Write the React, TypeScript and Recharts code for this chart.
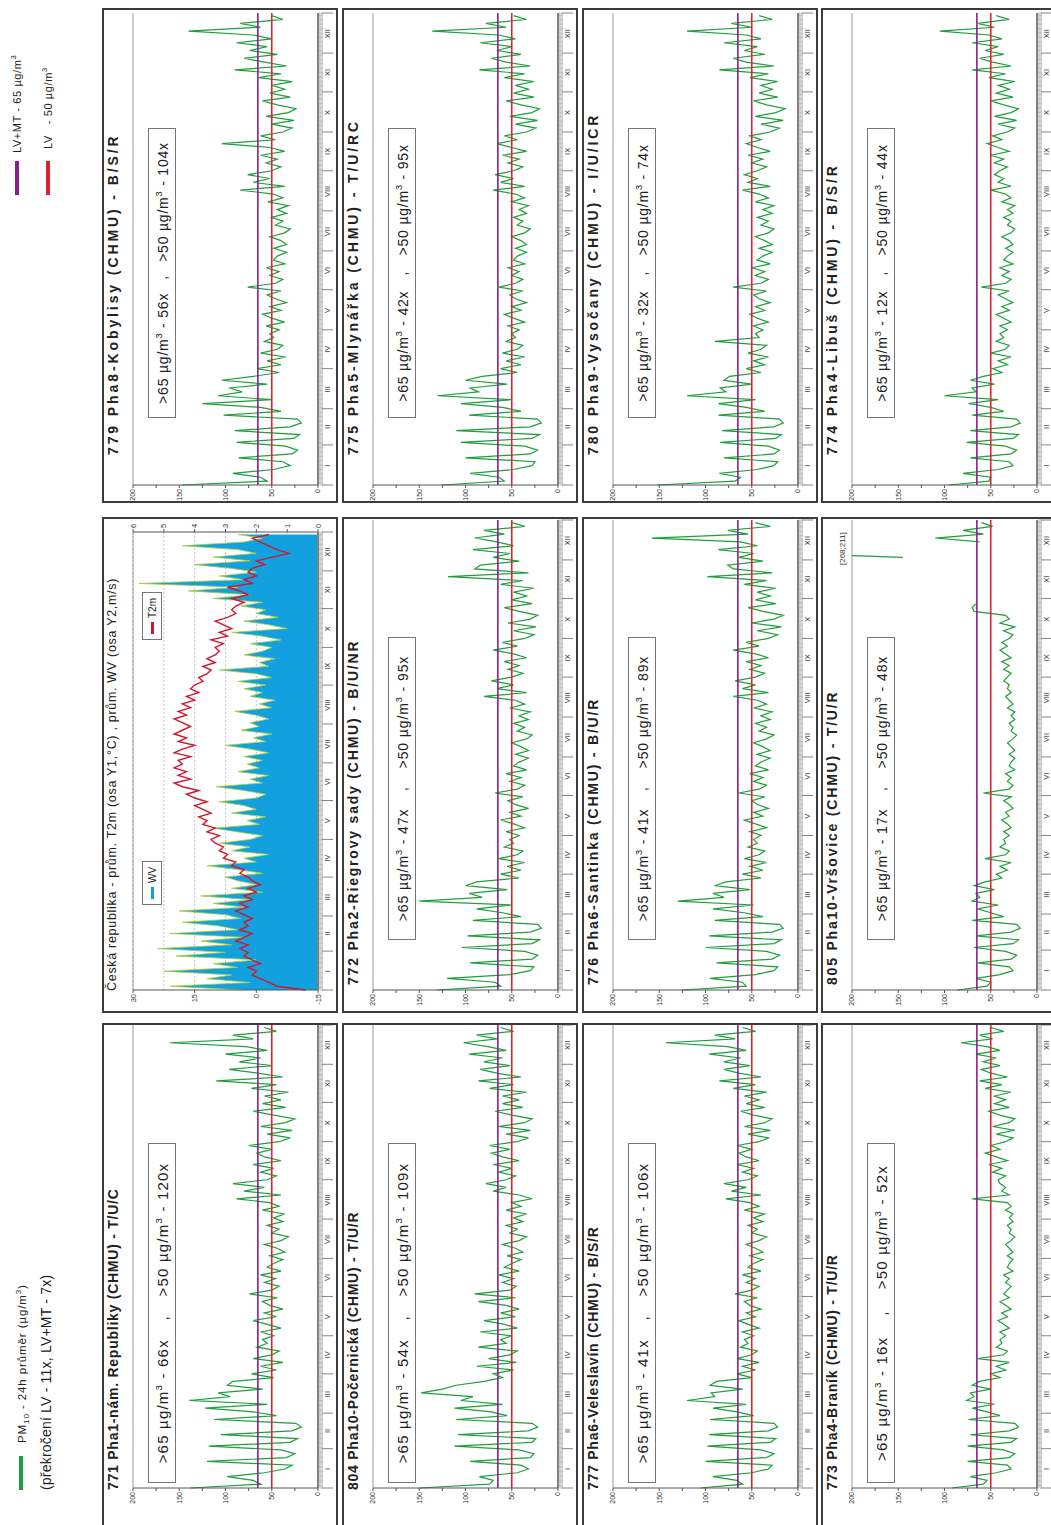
import React from "react"
import { LineChart, Line, XAxis, YAxis, ReferenceLine, ComposedChart, Area, CartesianGrid } from "recharts"

// one sample every third day, Jan 1 .. Dec 30
const STEP = 3

const monthLabels = ["I", "II", "III", "IV", "V", "VI", "VII", "VIII", "IX", "X", "XI", "XII"]
const monthStarts = [0, 31, 59, 90, 120, 151, 181, 212, 243, 273, 304, 334, 365]
const monthMidDays = [15, 45, 74, 105, 135, 166, 196, 227, 258, 288, 319, 349]
const pmTicks = [0, 25, 50, 75, 100, 125, 150, 175, 200]
const t2mTicks = [-15, 0, 15, 30]
const wvTicks = [0, 1, 2, 3, 4, 5, 6]

// PM10 24h averages (µg/m3)
const pha1Nam = [
  138, 62, 70, 98, 58, 36, 28, 120, 34, 25, 40,
  118, 30, 22, 105, 28, 18, 24, 112, 45,
  70, 122, 55, 139, 95, 108, 60, 98, 92, 48,
  72, 45, 62, 38, 70, 50, 42, 66, 55, 60,
  48, 62, 40, 55, 70, 45, 58, 38, 52, 60, 44,
  74, 50, 42, 58, 46, 62, 40, 55, 48, 38,
  52, 36, 44, 58, 40, 32, 50, 42, 55, 38,
  48, 36, 60, 42, 52, 88, 40, 80, 58, 92,
  55, 45, 62, 48, 70, 40, 58, 66, 50, 75,
  42, 30, 55, 28, 62, 35, 25, 48, 70, 35, 60,
  40, 58, 32, 72, 45, 110, 38, 65, 96, 50,
  85, 62, 100, 55, 78, 160, 70, 92, 45, 58,
]
const pha8Kobylisy = [
  147, 55, 62, 92, 48, 30, 38, 86, 28, 22, 35,
  88, 26, 20, 90, 30, 18, 22, 102, 40,
  62, 125, 50, 108, 82, 96, 55, 104, 70, 42,
  66, 40, 55, 35, 62, 44, 38, 58, 48, 52,
  42, 56, 36, 50, 60, 40, 52, 34, 46, 55, 40,
  76, 46, 38, 52, 42, 56, 36, 48, 44, 34,
  48, 34, 40, 52, 36, 30, 46, 38, 50, 34,
  44, 32, 54, 38, 48, 84, 36, 70, 52, 76,
  50, 40, 56, 44, 62, 36, 52, 104, 46, 62,
  38, 28, 50, 26, 56, 32, 24, 44, 60, 30, 52,
  36, 50, 28, 64, 40, 90, 34, 58, 80, 44,
  74, 55, 88, 50, 70, 140, 62, 84, 38, 50,
]
const pha10Pocernicka = [
  150, 74, 70, 85, 44, 32, 40, 95, 30, 26, 42,
  112, 28, 24, 108, 32, 22, 28, 110, 55,
  72, 112, 60, 105, 92, 148, 125, 110, 80, 60,
  70, 48, 88, 45, 75, 52, 44, 86, 56, 62,
  50, 84, 44, 58, 80, 46, 62, 42, 56, 86, 46,
  90, 52, 45, 60, 48, 64, 42, 58, 50, 40,
  55, 38, 46, 60, 42, 34, 52, 44, 56, 38,
  48, 34, 56, 40, 50, 28, 42, 70, 56, 78,
  56, 46, 64, 50, 70, 42, 60, 72, 52, 74,
  44, 32, 56, 30, 64, 36, 28, 50, 68, 38, 60,
  42, 60, 34, 74, 48, 86, 40, 66, 84, 52,
  80, 60, 96, 56, 76, 102, 66, 88, 48, 62,
]
const pha2Riegrovy = [
  131, 62, 68, 120, 52, 30, 26, 95, 28, 22, 36,
  104, 28, 20, 98, 30, 18, 22, 92, 40,
  60, 88, 50, 150, 82, 96, 55, 100, 88, 42,
  62, 40, 55, 36, 64, 44, 38, 58, 48, 52,
  42, 56, 36, 48, 62, 40, 52, 32, 46, 54, 38,
  68, 44, 36, 52, 40, 56, 34, 48, 42, 32,
  46, 32, 40, 50, 34, 28, 44, 36, 48, 32,
  42, 30, 52, 36, 46, 80, 34, 66, 48, 72,
  50, 38, 54, 42, 58, 34, 48, 70, 44, 60,
  36, 26, 48, 24, 54, 30, 22, 42, 58, 28, 50,
  34, 48, 26, 62, 38, 119, 32, 90, 84, 42,
  70, 52, 92, 48, 66, 90, 58, 80, 36, 50,
]
const pha5Mlynarka = [
  125, 58, 64, 95, 48, 28, 25, 100, 30, 22, 36,
  105, 28, 20, 110, 30, 18, 22, 96, 40,
  60, 105, 50, 130, 86, 95, 55, 100, 82, 44,
  62, 40, 56, 36, 60, 44, 38, 56, 46, 50,
  42, 54, 36, 48, 58, 40, 50, 34, 46, 52, 38,
  64, 46, 38, 50, 42, 54, 36, 48, 44, 34,
  46, 34, 40, 50, 36, 30, 44, 38, 48, 34,
  42, 32, 50, 36, 46, 70, 36, 62, 48, 68,
  48, 38, 54, 42, 60, 34, 50, 66, 44, 58,
  34, 24, 46, 22, 52, 28, 20, 40, 56, 26, 48,
  32, 46, 26, 58, 36, 85, 30, 56, 72, 40,
  66, 50, 84, 46, 64, 136, 56, 78, 34, 48,
]
const pha6Veleslavin = [
  105, 60, 66, 92, 50, 32, 28, 100, 34, 26, 40,
  98, 30, 24, 96, 32, 22, 26, 95, 48,
  66, 92, 56, 120, 90, 94, 60, 95, 88, 50,
  66, 46, 60, 42, 66, 50, 44, 62, 54, 58,
  48, 60, 42, 54, 64, 46, 56, 40, 52, 58, 44,
  68, 50, 42, 56, 46, 60, 40, 54, 48, 38,
  52, 38, 46, 56, 42, 34, 50, 44, 54, 38,
  48, 36, 58, 42, 52, 78, 40, 72, 56, 80,
  54, 44, 60, 48, 66, 42, 56, 64, 50, 66,
  42, 32, 54, 30, 58, 36, 28, 48, 62, 36, 56,
  42, 58, 34, 70, 46, 85, 40, 64, 80, 52,
  80, 62, 96, 56, 76, 143, 68, 90, 46, 60,
]
const pha6Santinka = [
  125, 56, 60, 95, 46, 26, 22, 88, 28, 20, 34,
  100, 26, 18, 96, 28, 16, 20, 90, 38,
  58, 92, 48, 130, 80, 92, 52, 90, 78, 40,
  60, 38, 52, 34, 58, 42, 36, 54, 44, 48,
  40, 52, 34, 46, 58, 38, 48, 32, 44, 50, 36,
  64, 42, 34, 48, 38, 52, 32, 46, 40, 30,
  44, 30, 38, 48, 34, 26, 42, 34, 46, 30,
  40, 28, 48, 34, 44, 70, 32, 60, 46, 68,
  46, 36, 52, 40, 56, 32, 46, 70, 42, 56,
  32, 22, 44, 18, 50, 26, 16, 38, 54, 24, 46,
  30, 44, 24, 58, 34, 98, 28, 70, 76, 38,
  64, 48, 86, 44, 62, 158, 54, 76, 30, 46,
]
const pha9Vysocany = [
  152, 68, 62, 85, 44, 26, 22, 80, 26, 20, 32,
  84, 24, 18, 82, 26, 16, 20, 86, 36,
  56, 86, 46, 120, 78, 84, 50, 80, 74, 40,
  56, 36, 48, 32, 54, 40, 34, 90, 42, 46,
  38, 48, 32, 44, 52, 36, 46, 30, 42, 48, 34,
  70, 40, 32, 46, 36, 50, 30, 44, 38, 28,
  42, 28, 36, 46, 32, 26, 40, 32, 44, 28,
  38, 26, 46, 32, 42, 60, 30, 54, 44, 58,
  44, 34, 50, 38, 54, 30, 44, 56, 40, 52,
  30, 20, 40, 16, 46, 24, 14, 34, 48, 22, 42,
  28, 40, 22, 52, 32, 85, 26, 56, 70, 36,
  58, 44, 80, 40, 56, 120, 50, 72, 28, 42,
]
const pha4Branik = [
  92, 58, 54, 72, 44, 28, 32, 75, 30, 24, 36,
  75, 28, 22, 72, 30, 20, 24, 74, 40,
  54, 70, 46, 76, 68, 72, 50, 70, 62, 40,
  50, 34, 44, 30, 64, 36, 32, 44, 38, 40,
  34, 40, 30, 36, 42, 32, 38, 28, 34, 40, 30,
  36, 32, 28, 34, 30, 36, 26, 32, 30, 26,
  32, 26, 30, 34, 28, 24, 30, 28, 32, 26,
  30, 26, 34, 28, 32, 70, 30, 38, 34, 40,
  42, 34, 48, 38, 52, 32, 44, 56, 40, 50,
  34, 26, 44, 24, 48, 30, 24, 40, 52, 30, 46,
  34, 46, 28, 56, 38, 62, 32, 50, 60, 40,
  58, 44, 66, 40, 54, 82, 48, 62, 36, 50,
]
const pha10Vrsovice = [
  86, 54, 50, 66, 40, 26, 30, 64, 28, 22, 34,
  68, 26, 20, 66, 28, 18, 22, 70, 36,
  50, 64, 42, 70, 62, 66, 46, 68, 56, 38,
  44, 32, 40, 28, 56, 34, 30, 40, 34, 36,
  30, 36, 28, 32, 38, 30, 34, 26, 30, 36, 28,
  58, 30, 26, 32, 28, 34, 24, 30, 28, 24,
  30, 24, 28, 32, 26, 22, 28, 26, 30, 24,
  28, 24, 32, 26, 30, 34, 28, 32, 30, 36,
  32, 28, 36, 30, 38, 28, 34, 40, 32, 38,
  30, 26, 36, 24, 40, 30, 34, 68, 70, 66, null,
  null, null, null, null, null, null, null, null, null, null,
  145, 268, 211, null, 62, 110, 58, 80, 48, 60,
]
const pha4Libus = [
  95, 52, 50, 80, 42, 26, 30, 72, 28, 22, 34,
  76, 26, 20, 72, 28, 18, 22, 70, 36,
  50, 74, 42, 100, 66, 70, 46, 72, 58, 38,
  48, 32, 42, 28, 50, 34, 30, 44, 36, 40,
  32, 40, 28, 36, 44, 30, 38, 26, 34, 42, 30,
  60, 34, 28, 38, 30, 40, 26, 36, 32, 26,
  34, 26, 30, 38, 28, 24, 32, 28, 36, 26,
  32, 24, 38, 28, 34, 50, 28, 42, 36, 46,
  40, 32, 46, 36, 50, 30, 42, 54, 38, 48,
  32, 24, 42, 22, 46, 28, 20, 36, 50, 26, 44,
  30, 42, 24, 52, 34, 70, 28, 48, 62, 36,
  56, 42, 70, 38, 52, 105, 46, 64, 30, 44,
]

// Czech Republic averages: air temperature 2 m (°C) and wind speed (m/s)
const t2m = [
  -12, -5, -3, -1, 1, 0, 2, -1, 1, 3, 2,
  4, 2, 5, 3, 1, 4, 2, 3, 1,
  3, 5, 2, 4, 1, 3, 0, 2, -1, 1,
  2, 4, 3, 6, 5, 8, 7, 9, 8, 10,
  11, 9, 12, 10, 13, 12, 14, 11, 13, 15, 12,
  15, 17, 14, 18, 20, 16, 19, 17, 20, 18,
  19, 16, 20, 18, 15, 19, 17, 20, 18, 16,
  18, 20, 17, 19, 16, 18, 15, 17, 14, 16,
  15, 13, 14, 12, 11, 13, 10, 12, 10, 9,
  10, 8, 11, 7, 9, 6, 8, 10, 7, 5, 6,
  5, 3, 6, 2, 4, 7, 1, 3, 0, 2,
  1, -2, 0, -4, -8, -5, -3, -1, 1, -3,
]
const wv = [
  2.4, 4.8, 2.2, 3.6, 2.8, 5.0, 2.6, 3.4, 2.0, 4.6, 3.0,
  5.2, 2.8, 3.8, 2.4, 4.8, 2.6, 3.2, 4.4, 2.5,
  3.0, 4.5, 2.4, 3.4, 2.2, 3.8, 1.8, 2.8, 2.0, 2.6,
  3.0, 1.8, 2.6, 3.6, 2.0, 2.4, 1.6, 2.8, 2.2, 3.2,
  2.2, 1.8, 2.6, 3.4, 1.9, 2.3, 1.7, 2.8, 2.0, 2.4, 3.2,
  2.0, 1.7, 2.4, 3.3, 1.8, 2.2, 1.6, 2.6, 1.9, 2.3,
  1.8, 2.4, 1.6, 2.2, 3.0, 1.7, 2.1, 1.5, 2.5, 1.9,
  2.2, 1.6, 2.0, 2.7, 1.5, 1.9, 1.4, 2.2, 1.8, 2.4,
  1.7, 2.6, 1.5, 2.0, 3.2, 1.6, 1.9, 1.4, 2.4, 1.8,
  1.5, 2.2, 1.2, 1.8, 2.8, 1.0, 1.6, 2.4, 1.3, 2.0, 1.7,
  2.5, 1.8, 3.4, 2.2, 4.2, 2.6, 5.8, 2.4, 3.2, 2.0,
  2.8, 4.0, 2.2, 3.4, 2.0, 2.6, 4.4, 2.4, 1.8, 2.6,
]

const panels = [
  { row: 0, col: 0, title: "771 Pha1-nám. Republiky (CHMU) - T/U/C", over65: 66, over50: 120, values: pha1Nam },
  { row: 0, col: 2, title: "779 Pha8-Kobylisy (CHMU) - B/S/R", over65: 56, over50: 104, values: pha8Kobylisy },
  { row: 1, col: 0, title: "804 Pha10-Počernická (CHMU) - T/U/R", over65: 54, over50: 109, values: pha10Pocernicka },
  { row: 1, col: 1, title: "772 Pha2-Riegrovy sady (CHMU) - B/U/NR", over65: 47, over50: 95, values: pha2Riegrovy },
  { row: 1, col: 2, title: "775 Pha5-Mlynářka (CHMU) - T/U/RC", over65: 42, over50: 95, values: pha5Mlynarka },
  { row: 2, col: 0, title: "777 Pha6-Veleslavín (CHMU) - B/S/R", over65: 41, over50: 106, values: pha6Veleslavin },
  { row: 2, col: 1, title: "776 Pha6-Santinka (CHMU) - B/U/R", over65: 41, over50: 89, values: pha6Santinka },
  { row: 2, col: 2, title: "780 Pha9-Vysočany (CHMU) - I/U/ICR", over65: 32, over50: 74, values: pha9Vysocany },
  { row: 3, col: 0, title: "773 Pha4-Braník (CHMU) - T/U/R", over65: 16, over50: 52, values: pha4Branik },
  { row: 3, col: 1, title: "805 Pha10-Vršovice (CHMU) - T/U/R", over65: 17, over50: 48, values: pha10Vrsovice, note: "[268;211]" },
  { row: 3, col: 2, title: "774 Pha4-Libuš (CHMU) - B/S/R", over65: 12, over50: 44, values: pha4Libus },
]

// layout of the un-rotated (landscape) page
const FONT = "'Liberation Sans', Arial, sans-serif"
const ROWS = [102, 342, 582, 821]
const PANEL_H = 236
const COLS = [
  { x: -30, w: 532, axis: 37, right: 500, boxX: 42, boxW: 340, boxFont: 15, boxLs: 1.2, titleX: 35, titleLs: 0.75 },
  { x: 512, w: 496, axis: 535, right: 1005, boxX: 585, boxW: 303, boxFont: 14, boxLs: 0.9, titleX: 540, titleLs: 1.8 },
  { x: 1022, w: 495, axis: 1040, right: 1512, boxX: 1107, boxW: 290, boxFont: 14, boxLs: 0.8, titleX: 1070, titleLs: 2.9 },
]

const dailyTicks = Array.from({ length: 366 }, (_, i) => i)

function DayTick(props: any) {
  const { x, y, payload } = props
  const d = payload.value
  const m = monthMidDays.indexOf(d)
  const isStart = monthStarts.includes(d)
  return (
    <g>
      <line x1={x} x2={x} y1={y + 1} y2={y + 5} stroke="#a3a3a3" strokeWidth={0.7} />
      {isStart && <line x1={x} x2={x} y1={y + 4} y2={y + 15} stroke="#666" strokeWidth={0.8} />}
      {m >= 0 && (
        <text x={x} y={y + 12} textAnchor="middle" fontSize={7.5} fill="#333" fontFamily={FONT}>
          {monthLabels[m]}
        </text>
      )}
    </g>
  )
}

function monthAxis() {
  return (
    <XAxis
      dataKey="d"
      type="number"
      domain={[0, 365]}
      ticks={dailyTicks}
      interval={0}
      tick={DayTick}
      tickLine={false}
      tickSize={0}
      tickMargin={0}
      height={16}
      axisLine={{ stroke: "#808080", strokeWidth: 2 }}
    />
  )
}

function Frame({ left, top, width, children }: any) {
  return (
    <div style={{ position: "absolute", left, top, width, height: PANEL_H, background: "#fff" }}>
      {children}
      <div style={{ position: "absolute", inset: 0, border: "2px solid #3c3c3c", pointerEvents: "none" }} />
    </div>
  )
}

function PmPanel({ p }: any) {
  const c = COLS[p.col]
  const data = p.values.map((v: number | null, i: number) => ({ d: i * STEP, v }))
  return (
    <Frame left={c.x} top={ROWS[p.row]} width={c.w}>
      <LineChart
        width={c.w}
        height={PANEL_H}
        data={data}
        margin={{ top: 31, right: c.x + c.w - c.right, bottom: 4, left: 0 }}
        style={{ position: "absolute", left: 0, top: 0 }}
      >
        {monthAxis()}
        <YAxis
          type="number"
          domain={[0, 200]}
          allowDataOverflow
          ticks={pmTicks}
          interval={0}
          width={c.axis - c.x}
          tickSize={3}
          tickMargin={1}
          tickFormatter={(v: number) => (v % 50 === 0 ? String(v) : "")}
          tick={{ fontSize: 7, fill: "#333", fontFamily: FONT }}
          axisLine={{ stroke: "#555" }}
          tickLine={{ stroke: "#555" }}
        />
        <ReferenceLine y={200} stroke="#9a9a9a" strokeWidth={1} />
        <Line
          dataKey="v"
          type="linear"
          stroke="#1f9e3c"
          strokeWidth={1.2}
          dot={false}
          isAnimationActive={false}
        />
        <ReferenceLine y={65} stroke="#86208f" strokeWidth={1.6} />
        <ReferenceLine y={50} stroke="#dc2430" strokeWidth={1.6} />
      </LineChart>
      <div
        style={{
          position: "absolute", left: c.titleX - c.x, top: 3, fontFamily: FONT, fontWeight: 700,
          fontSize: 14, letterSpacing: c.titleLs, color: "#222", whiteSpace: "nowrap",
        }}
      >
        {p.title}
      </div>
      <div
        style={{
          position: "absolute", left: c.boxX - c.x, top: 46, width: c.boxW, height: 28, boxSizing: "border-box",
          border: "1px solid #777", display: "flex", alignItems: "center", justifyContent: "space-evenly",
          fontFamily: FONT, fontSize: c.boxFont, letterSpacing: c.boxLs, color: "#222", whiteSpace: "nowrap",
        }}
      >
        <span>&gt;65 µg/m<sup style={{ fontSize: "0.65em" }}>3</sup> - {p.over65}x</span>
        <span>,</span>
        <span>&gt;50 µg/m<sup style={{ fontSize: "0.65em" }}>3</sup> - {p.over50}x</span>
      </div>
      {p.note && (
        <div style={{ position: "absolute", left: 448, top: 17, fontFamily: FONT, fontSize: 8, color: "#333" }}>
          {p.note}
        </div>
      )}
    </Frame>
  )
}

function MeteoPanel() {
  const c = COLS[1]
  const data = t2m.map((t, i) => ({ d: i * STEP, t, w: wv[i] }))
  return (
    <Frame left={c.x} top={ROWS[0]} width={c.w}>
      <ComposedChart
        width={c.w}
        height={PANEL_H}
        data={data}
        margin={{ top: 31, right: 0, bottom: 4, left: 0 }}
        style={{ position: "absolute", left: 0, top: 0 }}
      >
        {monthAxis()}
        <YAxis
          yAxisId="t"
          orientation="left"
          type="number"
          domain={[-15, 30]}
          ticks={t2mTicks}
          interval={0}
          width={c.axis - c.x}
          tickSize={3}
          tickMargin={1}
          tick={{ fontSize: 7.5, fill: "#333", fontFamily: FONT }}
          axisLine={{ stroke: "#555" }}
          tickLine={{ stroke: "#555" }}
        />
        <YAxis
          yAxisId="w"
          orientation="right"
          type="number"
          domain={[0, 6]}
          ticks={wvTicks}
          interval={0}
          width={15}
          tickSize={3}
          tickMargin={1}
          tick={{ fontSize: 7.5, fill: "#333", fontFamily: FONT }}
          axisLine={{ stroke: "#555" }}
          tickLine={{ stroke: "#555" }}
        />
        <CartesianGrid yAxisId="w" vertical={false} stroke="#c4c4c4" strokeDasharray="2 2" />
        <ReferenceLine yAxisId="w" y={6} stroke="#9a9a9a" />
        <Area
          yAxisId="w"
          dataKey="w"
          type="linear"
          fill="#12a1de"
          fillOpacity={1}
          stroke="#a6cf3c"
          strokeWidth={0.8}
          isAnimationActive={false}
        />
        <Line
          yAxisId="t"
          dataKey="t"
          type="linear"
          stroke="#d3162c"
          strokeWidth={1.4}
          dot={false}
          isAnimationActive={false}
        />
      </ComposedChart>
      <div
        style={{
          position: "absolute", left: 22, top: 3, fontFamily: FONT, fontSize: 12.5, letterSpacing: 0.7,
          color: "#222", whiteSpace: "nowrap",
        }}
      >
        Česká republika - prům. T2m (osa Y1,°C) , prům. WV (osa Y2,m/s)
      </div>
      <LegendBox left={108} label="WV" color="#12a1de" />
      <LegendBox left={373} label="T2m" color="#d3162c" />
    </Frame>
  )
}

function LegendBox({ left, label, color }: any) {
  return (
    <div
      style={{
        position: "absolute", left, top: 40, height: 20, padding: "0 5px", boxSizing: "border-box",
        border: "1px solid #777", background: "#fff", display: "flex", alignItems: "center", gap: 4,
        fontFamily: FONT, fontSize: 10, color: "#222",
      }}
    >
      <span style={{ display: "inline-block", width: 12, height: 3, background: color }} />
      {label}
    </div>
  )
}

function Header() {
  const text = { position: "absolute" as const, fontFamily: FONT, color: "#222", whiteSpace: "nowrap" as const }
  return (
    <>
      <div style={{ position: "absolute", left: 35, top: 19, width: 34, height: 4, background: "#1f9e3c" }} />
      <div style={{ ...text, left: 82, top: 14, fontSize: 11.5, letterSpacing: 0.9 }}>
        PM<sub style={{ fontSize: "0.7em" }}>10</sub> - 24h průměr (µg/m<sup style={{ fontSize: "0.7em" }}>3</sup>)
      </div>
      <div style={{ ...text, left: 35, top: 38, fontSize: 14, letterSpacing: 0.2 }}>
        (překročení LV - 11x, LV+MT - 7x)
      </div>
      <div style={{ position: "absolute", left: 1330, top: 15, width: 34, height: 4, background: "#86208f" }} />
      <div style={{ ...text, left: 1372, top: 9, fontSize: 11, letterSpacing: 0.6 }}>
        LV+MT - 65 µg/m<sup style={{ fontSize: "0.7em" }}>3</sup>
      </div>
      <div style={{ position: "absolute", left: 1330, top: 46, width: 34, height: 4, background: "#dc2430" }} />
      <div style={{ ...text, left: 1376, top: 40, fontSize: 11, letterSpacing: 0.6 }}>
        LV &nbsp;&nbsp;- 50 µg/m<sup style={{ fontSize: "0.7em" }}>3</sup>
      </div>
    </>
  )
}

export default function App() {
  return (
    <div style={{ position: "absolute", left: 0, top: 0, width: 1051, height: 1525, overflow: "hidden", background: "#fff" }}>
      <div
        style={{
          position: "absolute", left: 0, top: 0, width: 1525, height: 1051,
          transformOrigin: "0 0", transform: "translateY(1525px) rotate(-90deg)",
        }}
      >
        <Header />
        <MeteoPanel />
        {panels.map((p) => (
          <PmPanel key={p.title} p={p} />
        ))}
      </div>
    </div>
  )
}
